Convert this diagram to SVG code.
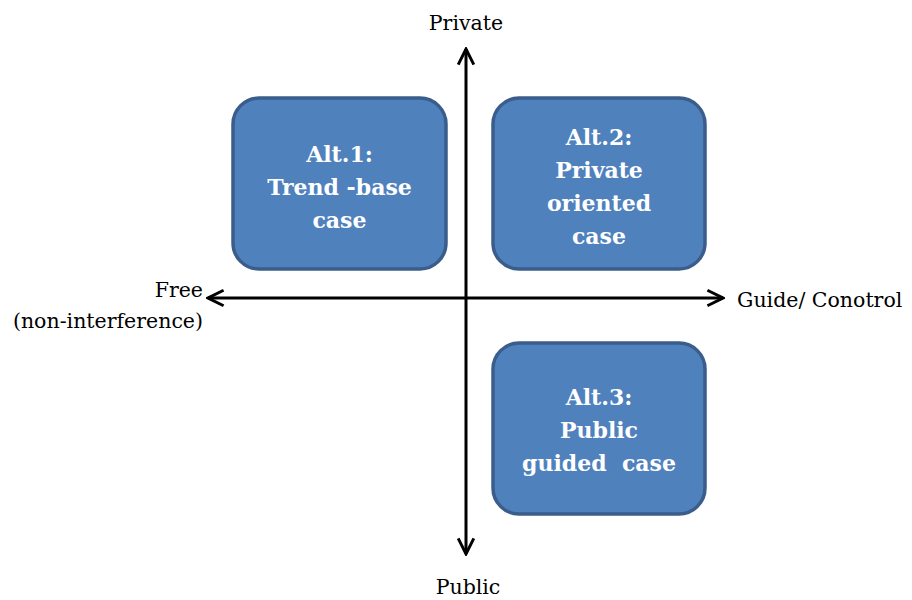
<svg xmlns="http://www.w3.org/2000/svg" width="912" height="600" viewBox="0 0 912 600">
<defs>
<style>
.box{fill:#4f81bd;stroke:#3a5d8c;stroke-width:3.5}
.bt{font-family:'DejaVu Serif','Liberation Serif',serif;font-weight:bold;font-size:22px;fill:#fff;text-anchor:middle}
.lbl{font-family:'DejaVu Serif','Liberation Serif',serif;font-size:20.5px;fill:#000}
.ax{stroke:#000;stroke-width:3;fill:none}
</style>
<marker id="ah" viewBox="0 0 10 10" refX="9" refY="5" markerWidth="6.5" markerHeight="6.5" markerUnits="strokeWidth" orient="auto">
<path d="M1,1 L9,5 L1,9" fill="none" stroke="#000" stroke-width="1.5"/>
</marker>
</defs>
<rect width="912" height="600" fill="#fff"/>
<g id="connectors">
<line class="ax" x1="466" y1="298" x2="466" y2="49" marker-end="url(#ah)"/>
<line class="ax" x1="466" y1="298" x2="466" y2="554" marker-end="url(#ah)"/>
<line class="ax" x1="466" y1="298" x2="208" y2="298" marker-end="url(#ah)"/>
<line class="ax" x1="466" y1="298" x2="723" y2="298" marker-end="url(#ah)"/>
</g>
<g id="alt1">
<rect class="box" x="233" y="98" width="213" height="171" rx="26"/>
<text class="bt" x="339.5" y="162">Alt.1:</text>
<text class="bt" x="339.5" y="195">Trend -base</text>
<text class="bt" x="339.5" y="228">case</text>
</g>
<g id="alt2">
<rect class="box" x="493" y="98" width="212" height="171" rx="26"/>
<text class="bt" x="599" y="145">Alt.2:</text>
<text class="bt" x="599" y="178">Private</text>
<text class="bt" x="599" y="211">oriented</text>
<text class="bt" x="599" y="244">case</text>
</g>
<g id="alt3">
<rect class="box" x="493" y="343" width="212" height="171" rx="26"/>
<text class="bt" x="599" y="405">Alt.3:</text>
<text class="bt" x="599" y="438">Public</text>
<text class="bt" x="599" y="471" xml:space="preserve">guided  case</text>
</g>
<g id="labels">
<text class="lbl" x="466" y="30" text-anchor="middle">Private</text>
<text class="lbl" x="468" y="594" text-anchor="middle">Public</text>
<text class="lbl" x="203" y="297" text-anchor="end">Free</text>
<text class="lbl" x="203" y="328" text-anchor="end">(non-interference)</text>
<text class="lbl" x="737" y="307">Guide/ Conotrol</text>
</g>
</svg>
